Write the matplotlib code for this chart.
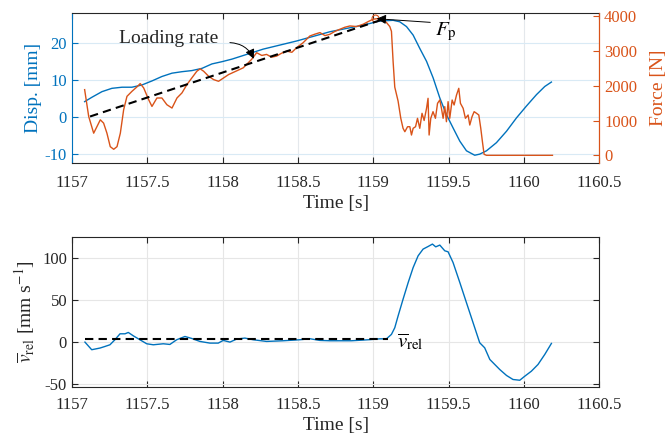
import numpy as np
import matplotlib
matplotlib.use("Agg")
import matplotlib.pyplot as plt

plt.rcParams["font.family"] = ["Liberation Serif", "DejaVu Serif"]
plt.rcParams["mathtext.fontset"] = "stix"
plt.rcParams["axes.unicode_minus"] = False

# ---- data ----
disp_t = [1157.084, 1157.133, 1157.199, 1157.265, 1157.332, 1157.398, 1157.464,
          1157.531, 1157.597, 1157.664, 1157.730, 1157.796, 1157.863, 1157.929,
          1157.995, 1158.062, 1158.269, 1158.491, 1158.712, 1158.933, 1159.044,
          1159.132, 1159.176, 1159.221, 1159.265, 1159.309, 1159.354, 1159.398,
          1159.442, 1159.486, 1159.530, 1159.575, 1159.619, 1159.674, 1159.707,
          1159.752, 1159.818, 1159.885, 1159.951, 1160.017, 1160.084, 1160.139,
          1160.183]
disp_mm = [4.2, 5.4, 6.9, 7.8, 8.1, 8.1, 8.7,
           9.8, 11.0, 11.9, 12.3, 12.6, 13.2, 14.4,
           15.0, 15.7, 18.4, 20.6, 23.1, 24.9, 26.0,
           26.2, 25.8, 24.5, 22.2, 18.6, 15.1, 10.6,
           5.2, 0.7, -2.9, -6.5, -9.1, -10.3, -10.0,
           -9.1, -6.9, -3.8, -0.2, 3.0, 6.1, 8.3,
           9.5]

force_t = [1157.084, 1157.111, 1157.144, 1157.166, 1157.188, 1157.210, 1157.232,
           1157.254, 1157.277, 1157.299, 1157.321, 1157.343, 1157.365, 1157.398,
           1157.431, 1157.453, 1157.476, 1157.509, 1157.531, 1157.564, 1157.597,
           1157.630, 1157.664, 1157.697, 1157.730, 1157.763, 1157.796, 1157.829,
           1157.851, 1157.874, 1157.907, 1157.940, 1157.973, 1158.007, 1158.040,
           1158.090, 1158.137, 1158.192, 1158.226, 1158.260, 1158.292, 1158.325,
           1158.358, 1158.390, 1158.425, 1158.460, 1158.491, 1158.535, 1158.579,
           1158.612, 1158.646, 1158.680, 1158.712, 1158.745, 1158.778, 1158.812,
           1158.845, 1158.890, 1158.933, 1158.970, 1158.999, 1159.032, 1159.066,
           1159.088, 1159.110, 1159.121, 1159.132, 1159.143, 1159.165, 1159.183,
           1159.198, 1159.210, 1159.228, 1159.243, 1159.254, 1159.265, 1159.281,
           1159.294, 1159.309, 1159.324, 1159.338, 1159.354, 1159.364, 1159.371,
           1159.382, 1159.397, 1159.413, 1159.427, 1159.442, 1159.453, 1159.464,
           1159.475, 1159.486, 1159.497, 1159.508, 1159.524, 1159.537, 1159.553,
           1159.568, 1159.579, 1159.597, 1159.612, 1159.630, 1159.641, 1159.656,
           1159.670, 1159.686, 1159.701, 1159.714, 1159.725, 1159.736, 1159.752,
           1160.190]
force_N = [1887, 1115, 636, 827, 1020, 925, 636,
           249, 173, 249, 636, 1309, 1694, 1838,
           1965, 2061, 1936, 1598, 1405, 1647, 1647,
           1454, 1358, 1647, 1792, 2032, 2225, 2416,
           2485, 2416, 2272, 2176, 2127, 2225, 2321,
           2420, 2514, 2754, 2948, 2870, 2899, 2820,
           2850, 2930, 2994, 2960, 3092, 3237, 3428,
           3480, 3526, 3440, 3477, 3560, 3621, 3680,
           3717, 3700, 3766, 3850, 3910, 3930, 3910,
           3815, 3700, 3563, 2696, 1960, 1560, 1063,
           776, 678, 822, 822, 583, 776, 822,
           1063, 776, 1207, 1000, 1350, 1638, 583,
           1063, 1254, 1063, 1494, 1589, 1350, 1063,
           1398, 966, 1542, 1063, 1589, 1446, 1733,
           1925, 1494, 1350, 1063, 1158, 870, 1110,
           1254, 1207, 1158, 776, 391, 29, 0,
           0]

# peak force marker
peak_t = [1159.01]
peak_N = [3950]

# loading-rate fit (dashed), endpoints in force units
rate_t = [1157.12, 1159.06]
rate_N = [1115, 3900]

vel_t = [1157.086, 1157.131, 1157.186, 1157.219, 1157.252, 1157.285, 1157.319,
         1157.352, 1157.374, 1157.407, 1157.451, 1157.496, 1157.540, 1157.606,
         1157.650, 1157.695, 1157.750, 1157.794, 1157.849, 1157.916, 1157.971,
         1158.004, 1158.049, 1158.093, 1158.148, 1158.203, 1158.292, 1158.402,
         1158.513, 1158.580, 1158.646, 1158.712, 1158.856, 1158.967, 1159.044,
         1159.088, 1159.121, 1159.143, 1159.165, 1159.198, 1159.232, 1159.265,
         1159.298, 1159.331, 1159.364, 1159.393, 1159.415, 1159.442, 1159.475,
         1159.497, 1159.530, 1159.575, 1159.619, 1159.663, 1159.707, 1159.740,
         1159.774, 1159.807, 1159.840, 1159.885, 1159.928, 1159.973, 1160.006,
         1160.050, 1160.094, 1160.139, 1160.183]
vel = [0.0, -9.1, -7.1, -5.2, -3.2, 2.8, 9.9,
       9.9, 11.5, 7.5, 2.8, -2.0, -3.2, -2.0,
       -2.8, 2.8, 6.7, 4.4, 0.8, -1.2, -1.2,
       2.0, 0.0, 3.6, 4.8, 2.8, 0.8, 1.6,
       2.8, 4.0, 2.0, 1.6, 1.6, 2.8, 3.9,
       3.9, 9.2, 17.1, 31.1, 51.1, 71.0, 88.9,
       102.9, 110.9, 114.0, 116.9, 113.6, 115.7, 108.9,
       107.7, 94.9, 71.0, 47.0, 23.1, -0.8, -6.8,
       -20.7, -26.7, -32.7, -39.8, -44.6, -45.5, -40.7,
       -34.7, -26.7, -14.7, -1.6]

vmean_t = [1157.086, 1159.10]
vmean = [3.5, 3.5]

xticks = [1157, 1157.5, 1158, 1158.5, 1159, 1159.5, 1160, 1160.5]
xtick_labels = ["1157", "1157.5", "1158", "1158.5", "1159", "1159.5", "1160", "1160.5"]

blue = "#0072BD"
orange = "#D95319"
dark = "#262626"

fig = plt.figure(figsize=(6.69, 4.37), dpi=100)
ax1 = fig.add_axes([0.1076, 0.627, 0.788, 0.3426])
ax3 = fig.add_axes([0.1076, 0.1151, 0.788, 0.3419])

# ---- top panel ----
ax1.plot(disp_t, disp_mm, color=blue, lw=1.0, zorder=3)
ax1.set_xlim(1157, 1160.5)
ax1.set_ylim(-12.4, 28.1)
ax1.set_yticks([-10, 0, 10, 20])
ax1.set_xticks(xticks)
ax1.set_xticklabels(xtick_labels)
ax1.set_ylabel("Disp. [mm]", color=blue, fontsize=14, labelpad=2)
ax1.set_xlabel("Time [s]", color=dark, fontsize=14, labelpad=3)
ax1.grid(axis="y", color="#d9eaf5", lw=0.8)
ax1.grid(axis="x", color="#e4e8ec", lw=0.8)
ax1.set_axisbelow(True)
ax1.tick_params(axis="y", colors=blue, labelsize=12, direction="in", length=4)
ax1.tick_params(axis="x", colors=dark, labelsize=12, direction="in", length=4,
                top=True, pad=8.5)
ax1.spines["left"].set_color(blue)
ax1.spines["right"].set_color(orange)
ax1.spines["top"].set_color(dark)
ax1.spines["bottom"].set_color(dark)

ax2 = ax1.twinx()
ax2.plot(force_t, force_N, color=orange, lw=1.0, zorder=3)
ax2.plot(peak_t, peak_N, ls="none", marker="o", ms=5, mfc="none",
         mec=orange, mew=0.8, zorder=3)
ax2.plot(rate_t, rate_N, color="black", lw=1.5, ls=(0, (4, 2.5)), zorder=4)
ax2.set_ylim(-221, 4081)
ax2.set_yticks([0, 1000, 2000, 3000, 4000])
ax2.set_ylabel("Force [N]", color=orange, fontsize=14, labelpad=9)
ax2.tick_params(axis="y", colors=orange, labelsize=12, direction="in", length=4)
for s in ["left", "top", "bottom"]:
    ax2.spines[s].set_visible(False)
ax2.spines["right"].set_color(orange)

ax2.text(1157.64, 3360, "Loading rate", fontsize=14, ha="center", va="center",
         color=dark)
ax2.annotate("", xy=(1158.214, 2700), xytext=(1158.03, 3240),
             arrowprops=dict(arrowstyle="-|>", color="black", lw=0.7,
                             mutation_scale=14,
                             connectionstyle="arc3,rad=-0.35"))
ax2.annotate("", xy=(1159.004, 3930), xytext=(1159.397, 3815),
             arrowprops=dict(arrowstyle="-|>", color="black", lw=0.7,
                             mutation_scale=14))
ax2.text(1159.41, 3560, r"$F_{\mathrm{p}}$", fontsize=15, ha="left",
         va="center", color="black")

# ---- bottom panel ----
ax3.plot(vel_t, vel, color=blue, lw=1.0, zorder=3)
ax3.plot(vmean_t, vmean, color="black", lw=1.5, ls=(0, (4, 2.5)), zorder=4)
ax3.text(1159.155, 0, r"$\overline{v}_{\mathrm{rel}}$", fontsize=15,
         ha="left", va="center", color="black")
ax3.set_xlim(1157, 1160.5)
ax3.set_ylim(-53.2, 125)
ax3.set_yticks([-50, 0, 50, 100])
ax3.set_xticks(xticks)
ax3.set_xticklabels(xtick_labels)
ax3.set_xlabel("Time [s]", color=dark, fontsize=14, labelpad=3)
ax3.set_ylabel(r"$\overline{v}_{\mathrm{rel}}$ [mm s$^{-1}$]", color=dark,
               fontsize=14, labelpad=4)
ax3.grid(True, color="#e6e6e6", lw=0.8)
ax3.set_axisbelow(True)
ax3.tick_params(colors=dark, labelsize=12, direction="in", length=4,
                top=True, right=True)
ax3.tick_params(axis="x", pad=7.5)
for s in ax3.spines.values():
    s.set_color(dark)

fig.savefig("out.png", dpi=100)
